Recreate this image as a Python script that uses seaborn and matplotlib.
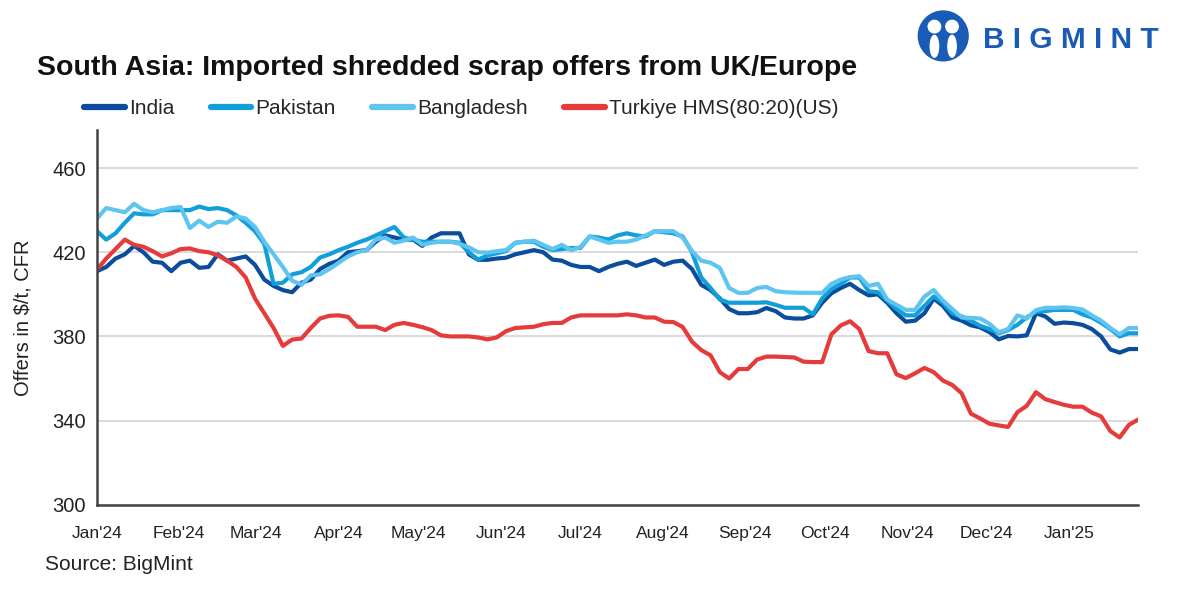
import numpy as np
import pandas as pd
import matplotlib
matplotlib.use("Agg")
import matplotlib.pyplot as plt
import matplotlib.dates as mdates
import seaborn as sns
from matplotlib.patches import Circle, Ellipse

# --- data (offers in $/t CFR), sampled every 3.5 days from 1 Jan 2024 ---
dates = pd.date_range("2024-01-01", periods=113, freq="84h")

india = [
    411, 413, 417, 419, 423, 420, 415.5, 415, 411, 415,
    416, 412.6, 413, 419, 416, 417, 418, 414, 407, 404,
    402, 401, 405.5, 407, 412, 414.5, 416, 420, 420.5, 421,
    425, 428, 427, 426, 426, 423, 427, 429, 429, 429,
    419, 416.4, 416.4, 417, 417.4, 419, 420, 421, 420, 416.5,
    416, 414, 413, 413, 411, 413, 414.5, 415.5, 413.5, 415,
    416.5, 414, 415.5, 416, 412, 404.5, 402, 398, 393, 391,
    391, 391.5, 393.5, 392, 389, 388.5, 388.5, 390, 396, 400.5,
    403, 405, 402, 399.5, 400, 396, 391, 387, 387.5, 391,
    398, 394.5, 389, 387.5, 385.3, 384.3, 382, 378.6, 380.2, 380,
    380.5, 391, 389.5, 386, 386.6, 386.3, 385.5, 383.5, 380, 373.8,
    372.3, 374, 374,
]
pakistan = [
    430, 426, 429, 434, 438.5, 438, 438, 440, 440, 440,
    440, 441.7, 440.5, 441, 440, 437.5, 434, 430, 424, 405,
    405.5, 409.5, 410.5, 413, 417.5, 419, 421, 422.6, 424.5, 426,
    428, 430, 432, 427, 426, 425, 425, 425, 425, 424.5,
    420, 416.5, 418.5, 419.5, 420.5, 424.5, 425, 425, 422.6, 421,
    421.5, 422, 422, 427.5, 427, 426, 428, 429, 428, 427.5,
    430, 429.5, 429, 427.5, 420, 408, 403, 397.5, 396, 396,
    396, 396, 396.2, 395, 393.6, 393.6, 393.6, 390.5, 398, 402.5,
    405, 408, 408, 401.5, 401, 397, 393, 390, 390, 394.5,
    399, 396, 391, 389.5, 387.5, 385, 383.5, 381.5, 383, 385.5,
    389, 391.7, 392, 392.6, 392.6, 392.6, 390.5, 389, 386.5, 383.5,
    380, 381.5, 381.5,
]
bangladesh = [
    436, 441, 440, 439, 443, 440, 439, 440, 441, 441.5,
    431.5, 435, 432, 434.5, 434, 437, 436, 432, 425, 419,
    413, 406.5, 404.5, 409, 409.5, 412, 415, 418, 420, 421,
    426, 427, 424.5, 425.5, 427, 423.6, 424.5, 425, 425, 424,
    422.3, 420, 419.8, 420.5, 421, 424.5, 425, 425.5, 423.5, 421.5,
    423.5, 421, 422.5, 427.5, 426, 424.5, 425, 425, 426, 428,
    430, 430, 430, 427, 420.5, 416, 415, 412.5, 403, 400.7,
    400.7, 403, 403.5, 401.5, 401, 400.8, 400.7, 400.7, 400.7, 405,
    407, 408.2, 408.6, 404, 405, 397.5, 395, 392.6, 392.6, 399,
    402, 397, 393, 389, 388.8, 388.5, 386, 382, 383.5, 390,
    388.5, 392.5, 393.6, 393.6, 393.8, 393.5, 392.8, 390, 387.5, 384,
    381, 384, 384,
]
turkiye = [
    411.7, 417, 421.5, 426, 423.5, 422.6, 420.5, 418, 419.5, 421.5,
    421.8, 420.5, 420, 418.5, 416, 413, 408, 398, 391, 384,
    375.5, 378.5, 379, 384, 388.5, 389.8, 390, 389.3, 384.6, 384.6,
    384.6, 383, 385.5, 386.4, 385.5, 384.4, 383, 380.5, 380, 380,
    380, 379.5, 378.6, 379.5, 382.5, 384, 384.3, 384.6, 385.8, 386.4,
    386.4, 389, 390, 390, 390, 390, 390, 390.5, 390, 389,
    389, 387, 386.8, 384.5, 377.5, 373.5, 371, 363, 360, 364.5,
    364.5, 369, 370.4, 370.4, 370.2, 370, 368, 367.8, 367.8, 381,
    385.2, 387.2, 383.5, 373, 372, 372, 362, 360.2, 362.5, 365,
    363, 359, 356.9, 353, 343.3, 341, 338.5, 337.7, 337, 344,
    347, 353.5, 350.2, 348.8, 347.5, 346.6, 346.6, 343.8, 342, 335,
    332, 338, 340.5,
]

series = ["India", "Pakistan", "Bangladesh", "Turkiye HMS(80:20)(US)"]
colors = ["#0b4c9c", "#129fd9", "#5ec5f0", "#e63b3b"]
y_ticks = [300, 340, 380, 420, 460]

df = pd.DataFrame({"date": dates, series[0]: india, series[1]: pakistan,
                   series[2]: bangladesh, series[3]: turkiye})
long = df.melt(id_vars="date", var_name="series", value_name="offer")

# --- style ---
sns.set_style("white")
plt.rcParams["font.family"] = ["Liberation Sans", "DejaVu Sans"]

fig = plt.figure(figsize=(11.82, 5.89), dpi=100)
ax = fig.add_axes([0.082, 0.143, 0.881, 0.636])

sns.lineplot(data=long, x="date", y="offer", hue="series", hue_order=series,
             palette=dict(zip(series, colors)), linewidth=3.0, ax=ax,
             legend=False)

ax.set_xlim(dates[0], dates[-1])
ax.set_ylim(300, 478)
ax.set_yticks(y_ticks)
ax.yaxis.grid(True, color="#d4d4d4", linewidth=1.2)
ax.set_axisbelow(True)

ax.xaxis.set_major_locator(mdates.MonthLocator())
ax.xaxis.set_major_formatter(mdates.DateFormatter("%b'%y"))
ax.tick_params(axis="x", length=5, width=1, color="#555555", direction="out",
               pad=10, labelsize=12.5, labelcolor="#222222")
ax.tick_params(axis="y", length=0, pad=8, labelsize=14.5, labelcolor="#222222")

for side in ["top", "right"]:
    ax.spines[side].set_visible(False)
for side in ["left", "bottom"]:
    ax.spines[side].set_color("#444444")
    ax.spines[side].set_linewidth(1.8)

ax.set_xlabel("")
ax.set_ylabel("Offers in $/t, CFR", fontsize=14.5, color="#222222", labelpad=14)

# legend
handles = [plt.Line2D([], [], color=c, linewidth=4.5, solid_capstyle="round") for c in colors]
fig.legend(handles, series, loc="center left", bbox_to_anchor=(0.071, 0.815),
           ncol=4, frameon=False, fontsize=15, handlelength=1.95,
           handletextpad=0.2, columnspacing=1.75, borderpad=0, borderaxespad=0)

# title / source
fig.text(0.031, 0.885, "South Asia: Imported shredded scrap offers from UK/Europe",
         fontsize=20.5, fontweight="bold", color="#111111", va="center")
fig.text(0.038, 0.042, "Source: BigMint", fontsize=15, color="#222222", va="center")

# logo
logo_blue = "#1a5bb5"
lax = fig.add_axes([0.776, 0.895, 0.044, 0.088])
lax.set_xlim(0, 1)
lax.set_ylim(0, 1)
lax.set_aspect("equal")
lax.axis("off")
lax.add_patch(Circle((0.5, 0.5), 0.48, color=logo_blue))
lax.add_patch(Circle((0.33, 0.68), 0.12, color="white"))
lax.add_patch(Circle((0.67, 0.68), 0.12, color="white"))
lax.add_patch(Ellipse((0.33, 0.3), 0.16, 0.42, color="white"))
lax.add_patch(Ellipse((0.67, 0.3), 0.16, 0.42, color="white"))
fig.text(0.832, 0.932, "B I G M I N T", fontsize=21.5, fontweight="heavy",
         color=logo_blue, va="center")

fig.savefig("out.png", dpi=100)
